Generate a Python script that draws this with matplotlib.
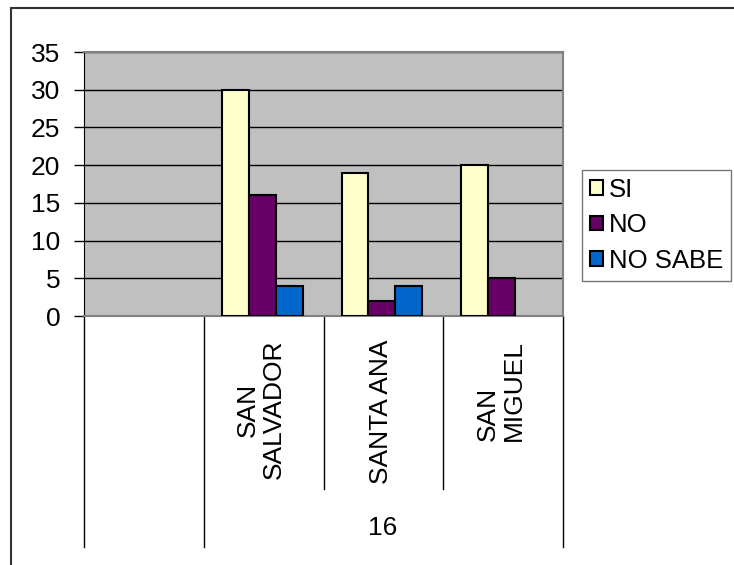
import matplotlib
matplotlib.use("Agg")
import matplotlib.pyplot as plt
import matplotlib.transforms as mtransforms
from matplotlib.patches import Patch, Rectangle
import numpy as np

plt.rcParams['font.family'] = ['Liberation Sans', 'DejaVu Sans']

# category slots: first one is blank, the rest belong to group "16"
places = ['', 'SAN\nSALVADOR', 'SANTA ANA', 'SAN\nMIGUEL']
group_label = '16'
series = ['SI', 'NO', 'NO SABE']
si = [0, 30, 19, 20]
no = [0, 16, 2, 5]
no_sabe = [0, 4, 4, 0]
colors = ['#FFFFCC', '#660066', '#0066CC']

W, H = 734, 565
FS = 19
fig = plt.figure(figsize=(W / 100, H / 100), dpi=100)
fig.patch.set_facecolor('white')

# outer chart border (only top/left visible)
fig.patches.append(Rectangle((11 / W, -0.1), 1.2, 1 - 8 / H + 0.1,
                             transform=fig.transFigure, fill=False,
                             edgecolor='#333333', lw=1.5))

ax = fig.add_axes([84 / W, (H - 316) / H, (563 - 84) / W, (316 - 52) / H])
ax.set_facecolor('#C0C0C0')
ax.set_xlim(0, len(places))
ax.set_ylim(0, 35)
ax.set_yticks(range(0, 36, 5))
ax.yaxis.grid(True, color='black', lw=1)
ax.set_axisbelow(True)
ax.set_xticks([])
ax.tick_params(axis='y', labelsize=FS, length=7, width=1, pad=10, color='black')
for s in ['top', 'right', 'bottom']:
    ax.spines[s].set_color('#808080')
    ax.spines[s].set_linewidth(1.5)
ax.spines['left'].set_color('black')

centers = np.arange(len(places)) + 0.5
bw = 0.225
for i, (vals, c) in enumerate(zip([si, no, no_sabe], colors)):
    x = centers + (i - 1) * bw - 0.012
    for xi, v in zip(x, vals):
        if v > 0:
            ax.bar(xi, v, width=bw, color=c, edgecolor='black', lw=1.5, zorder=3)

# multi-level category axis below the plot
tr = mtransforms.blended_transform_factory(ax.transData, ax.transAxes)
for k in range(len(places) + 1):
    inner = 1 < k < len(places)
    bottom = -0.655 if inner else -0.875
    ax.plot([k, k], [0, bottom], transform=tr, color='black', lw=1,
            clip_on=False)

for k, name in enumerate(places):
    if not name:
        continue
    align = 'left' if name.endswith('MIGUEL') else 'center'
    ax.text(centers[k] - 0.02, -0.09, name, transform=tr, rotation=90,
            ha='center', va='top', fontsize=FS, multialignment=align,
            linespacing=1.1)

ax.text(centers[1:].mean() - 0.01, -0.803, group_label, transform=tr,
        ha='center', va='center', fontsize=FS)

handles = [Patch(facecolor=c, edgecolor='black', lw=1.5) for c in colors]
leg = fig.legend(handles, series, loc='upper left',
                 bbox_to_anchor=(582 / W, 1 - 170 / H), fontsize=18.5,
                 frameon=True, fancybox=False, handlelength=0.5,
                 handleheight=0.5, handletextpad=0.25, labelspacing=0.45,
                 borderpad=0.3, borderaxespad=0)
leg.get_frame().set_edgecolor('#555555')
leg.get_frame().set_linewidth(1)

fig.savefig('out.png', dpi=100)
